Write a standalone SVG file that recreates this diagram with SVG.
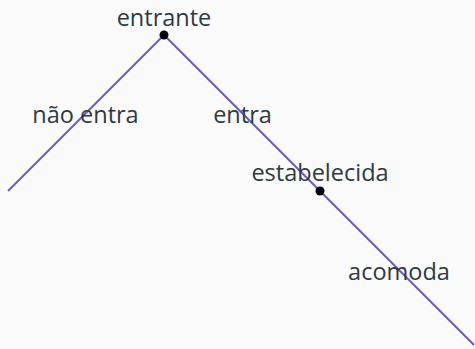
<svg xmlns="http://www.w3.org/2000/svg" width="475" height="349" viewBox="0 0 475 349">
<style>
.lbl{font-family:"Open Sans","Liberation Sans",sans-serif;font-size:23.5px;fill:#2d3b41;text-anchor:middle}
.edge{stroke:#6a5acd;stroke-width:2;fill:none}
.dot{fill:#000}
</style>
<rect width="475" height="349" fill="#fafafa"/>
<g id="connectors">
<line class="edge" x1="164" y1="35" x2="8" y2="191"/>
<line class="edge" x1="164" y1="35" x2="474" y2="345"/>
</g>
<g id="entrante">
<circle class="dot" cx="164" cy="35" r="4.5"/>
<text class="lbl" x="164" y="26">entrante</text>
</g>
<g id="nao-entra">
<text class="lbl" x="85.5" y="123">não entra</text>
</g>
<g id="entra">
<text class="lbl" x="242.5" y="123">entra</text>
</g>
<g id="estabelecida">
<circle class="dot" cx="320" cy="191" r="4.5"/>
<text class="lbl" x="320" y="181">estabelecida</text>
</g>
<g id="acomoda">
<text class="lbl" x="399" y="280">acomoda</text>
</g>
</svg>
